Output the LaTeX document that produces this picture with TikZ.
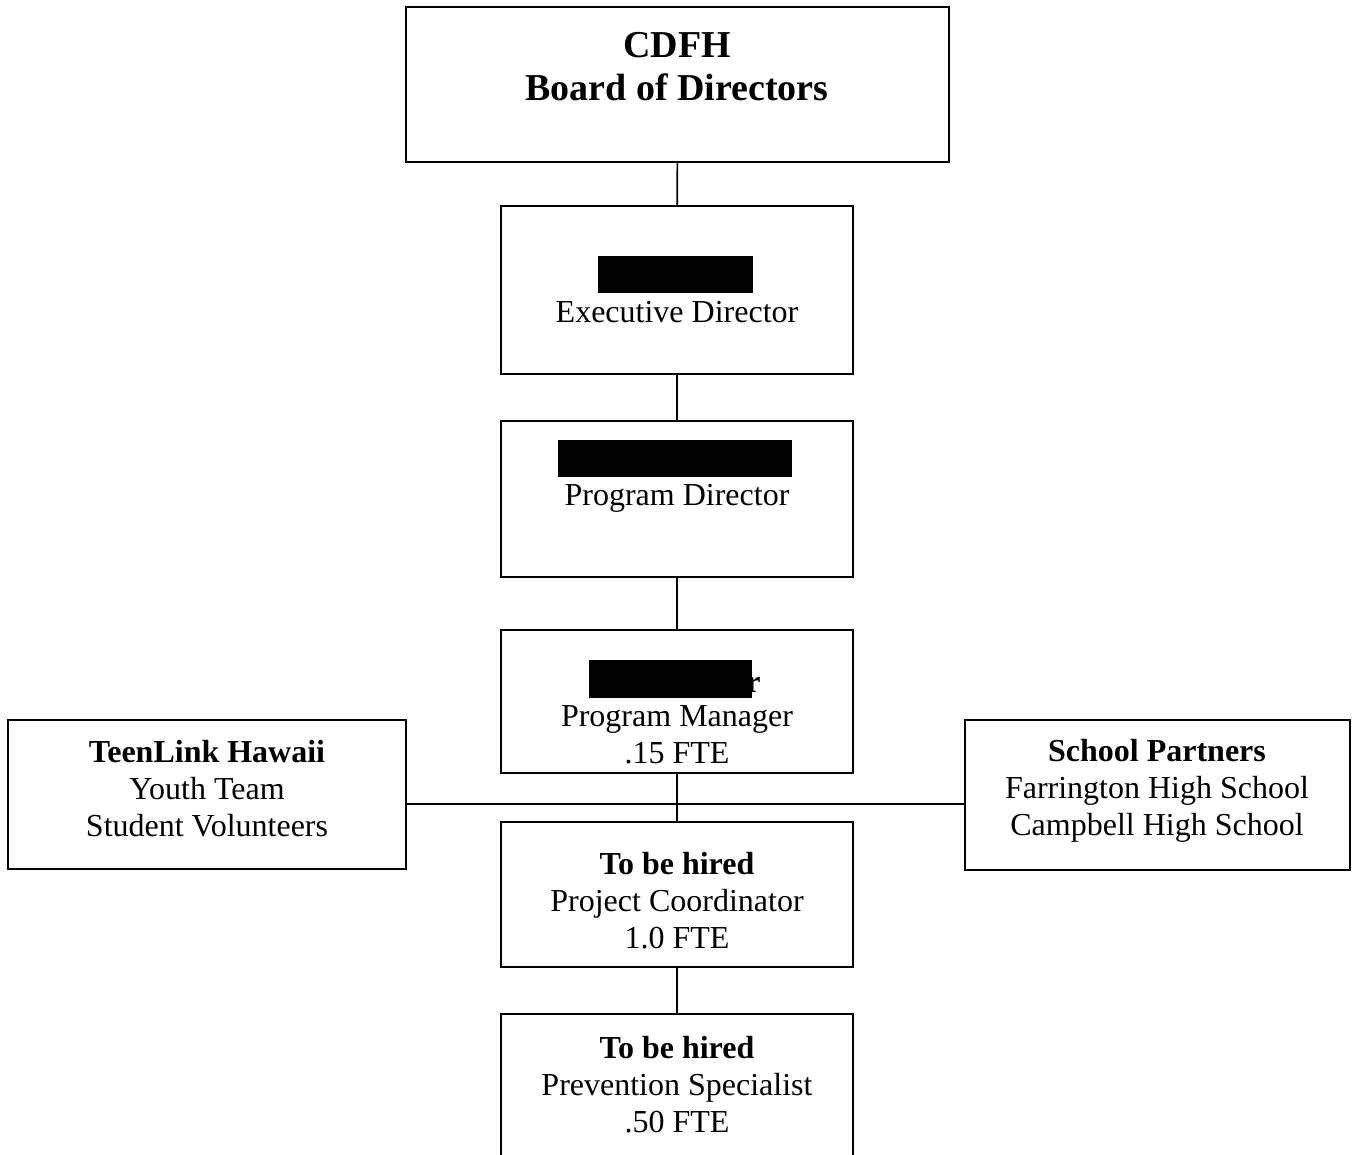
\documentclass[tikz,border=0pt]{standalone}
\usepackage{fontspec}
\setmainfont{Liberation Serif}
\usetikzlibrary{positioning}

\begin{document}
\begin{tikzpicture}[x=1pt,y=-1pt,
    box/.style={draw,line width=1.6pt,inner sep=0pt,minimum width=352pt},
    txt/.style={align=center,font=\fontsize{32}{37}\selectfont},
    head/.style={align=center,font=\bfseries\fontsize{38}{43}\selectfont},
    link/.style={line width=1.6pt}]
  \clip (0,0) rectangle (1352,1155);

  \node[box,minimum width=543pt,minimum height=155pt] (board) at (677.5,84.5) {};
  \node[box,minimum height=168pt] (exec) at (677,290) {};
  \node[box,minimum height=156pt] (pdir) at (677,499) {};
  \node[box,minimum height=143pt] (pmgr) at (677,701.5) {};
  \node[box,minimum height=145pt] (coord) at (677,894.5) {};
  \node[box,minimum height=151pt] (spec) at (677,1089.5) {};
  \node[box,minimum width=398pt,minimum height=149pt] (teen) at (207,794.5) {};
  \node[box,minimum width=385pt,minimum height=150pt] (school) at (1157.5,795) {};
  \coordinate (hub) at (677,804);

  \node[head] (board-t) at (677,67) {CDFH\\Board of Directors};
  \node[txt] (exec-t) at (677,312) {Executive Director};
  \node[txt] (pdir-t) at (677,498) {Program Director};
  \node[txt,anchor=base east] (pmgr-r) at (764,692) {\bfseries r};
  \node[txt] (pmgr-t) at (677,735) {Program Manager\\.15 FTE};
  \node[txt] (teen-t) at (207,789) {\textbf{TeenLink Hawaii}\\Youth Team\\Student Volunteers};
  \node[txt] (school-t) at (1157,791) {\textbf{School Partners}\\Farrington High School\\Campbell High School};
  \node[txt] (coord-t) at (677,901) {\textbf{To be hired}\\Project Coordinator\\1.0 FTE};
  \node[txt] (spec-t) at (677,1085) {\textbf{To be hired}\\Prevention Specialist\\.50 FTE};

  % blacked-out names
  \fill (598,256) rectangle (753,293);
  \fill (558,440) rectangle (792,477);
  \fill (589,660) rectangle (752,698);

  \draw[link] (board) -- (exec);
  \draw[link] (exec) -- (pdir);
  \draw[link] (pdir) -- (pmgr);
  \draw[link] (pmgr) -- (coord);
  \draw[link] (coord) -- (spec);
  \draw[link] (teen.east |- hub) -- (school.west |- hub);
\end{tikzpicture}
\end{document}
